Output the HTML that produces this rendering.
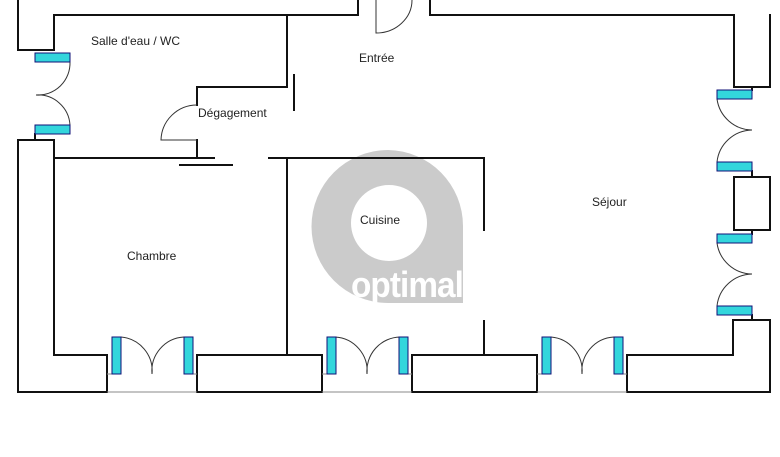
<!DOCTYPE html>
<html><head><meta charset="utf-8"><style>
html,body{margin:0;padding:0;background:#fff}
svg{display:block}
text{font-family:"Liberation Sans",Arial,sans-serif;font-size:12px;fill:#222}
</style></head><body>
<svg width="780" height="457" viewBox="0 0 780 457" xmlns="http://www.w3.org/2000/svg">
<path d="M388 150 A76 76 0 0 1 463 226 L463 303 L388 303 A76 76 0 0 1 388 150 Z" fill="#cbcbcb"/>
<circle cx="389" cy="223" r="38" fill="#fff"/>
<text x="351" y="297" style="font-size:36px;font-weight:bold;fill:#fff;letter-spacing:-1px" textLength="112" lengthAdjust="spacingAndGlyphs">optimal</text>

<g stroke="#111" stroke-width="2" fill="none" stroke-linecap="square">
<polyline points="18,0 18,50 54,50 54,15 358,15 358,0"/>
<polyline points="430,0 430,15 734,15 734,87 770,87 770,15"/>
<polyline points="18,392 18,140 54,140 54,355 107,355 107,392 18,392"/>
<line x1="35" y1="134" x2="35" y2="140"/>
<line x1="287" y1="15" x2="287" y2="87"/>
<polyline points="287,87 197,87 197,105"/>
<polyline points="197,140 197,158"/>
<line x1="54" y1="158" x2="214" y2="158"/>
<line x1="180" y1="165" x2="232" y2="165"/>
<polyline points="269,158 484,158 484,230"/>
<line x1="287" y1="158" x2="287" y2="355"/>
<line x1="294" y1="75" x2="294" y2="110"/>
<line x1="484" y1="321" x2="484" y2="355"/>
<rect x="197" y="355" width="125" height="37"/>
<rect x="412" y="355" width="125" height="37"/>
<polyline points="627,392 627,355 733,355 733,320 770,320 770,392 627,392"/>
<rect x="734" y="177" width="36" height="53"/>
<line x1="752" y1="315" x2="752" y2="320"/>
<line x1="752" y1="87" x2="752" y2="90"/>
<line x1="752" y1="171" x2="752" y2="177"/>
<line x1="752" y1="230" x2="752" y2="234"/>
</g>
<g stroke="#888" stroke-width="1">
<line x1="107" y1="392" x2="197" y2="392"/>
<line x1="322" y1="392" x2="412" y2="392"/>
<line x1="537" y1="392" x2="627" y2="392"/>
<line x1="107" y1="374" x2="112" y2="374"/><line x1="193" y1="374" x2="197" y2="374"/>
<line x1="322" y1="374" x2="327" y2="374"/><line x1="408" y1="374" x2="412" y2="374"/>
<line x1="537" y1="374" x2="542" y2="374"/><line x1="622" y1="374" x2="627" y2="374"/>
</g>
<g stroke="#333" stroke-width="1" fill="none">
<path d="M376 0 L376 33 A36 33 0 0 0 412 0"/>
<path d="M197 105 A36 36 0 0 0 161 140 L197 140"/>
<path d="M70 62 A32 32 0 0 1 36 95"/>
<path d="M70 125 A32 32 0 0 0 36 95"/>
<path d="M717 99 A36 36 0 0 0 752 130"/>
<path d="M717 162 A36 36 0 0 1 752 130"/>
<path d="M717 243 A36 36 0 0 0 752 274"/>
<path d="M717 306 A36 36 0 0 1 752 274"/>
<path d="M121 337 A34 34 0 0 1 152 374"/>
<path d="M184 337 A34 34 0 0 0 152 374"/>
<path d="M335 337 A34 34 0 0 1 367 374"/>
<path d="M400 337 A34 34 0 0 0 367 374"/>
<path d="M551 337 A34 34 0 0 1 582 374"/>
<path d="M614 337 A34 34 0 0 0 582 374"/>
</g>
<g fill="#33d6dc" stroke="#117" stroke-width="1">
<rect x="35" y="53" width="35" height="9"/>
<rect x="35" y="125" width="35" height="9"/>
<rect x="717" y="90" width="35" height="9"/>
<rect x="717" y="162" width="35" height="9"/>
<rect x="717" y="234" width="35" height="9"/>
<rect x="717" y="306" width="35" height="9"/>
<rect x="112" y="337" width="9" height="37"/>
<rect x="184" y="337" width="9" height="37"/>
<rect x="327" y="337" width="9" height="37"/>
<rect x="399" y="337" width="9" height="37"/>
<rect x="542" y="337" width="9" height="37"/>
<rect x="614" y="337" width="9" height="37"/>
</g>
<text x="91" y="45">Salle d'eau / WC</text>
<text x="359" y="62">Entrée</text>
<text x="198" y="117">Dégagement</text>
<text x="360" y="224">Cuisine</text>
<text x="592" y="206">Séjour</text>
<text x="127" y="260">Chambre</text>
</svg>
</body></html>
